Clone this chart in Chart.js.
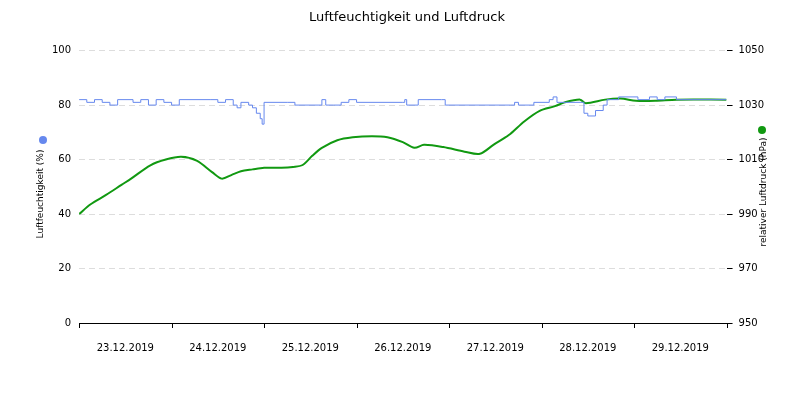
<!DOCTYPE html>
<html>
<head>
<meta charset="utf-8">
<script src="https://cdn.jsdelivr.net/npm/chart.js@4"></script>
<style>body{margin:0;background:#fff}#wrap{width:800px;height:400px}</style>
</head>
<body>
<div id="wrap"><canvas id="myChart"></canvas></div>
<script>
// hours since 23.12.2019 00:00
const dayLabels = ["23.12.2019", "24.12.2019", "25.12.2019", "26.12.2019", "27.12.2019", "28.12.2019", "29.12.2019"];
const humHours = [0, 2, 4, 6, 8, 10, 14, 16, 18, 20, 22, 24, 26, 34, 36, 38, 40, 41, 42, 44, 45, 46, 47, 47.5, 48, 54, 56, 62, 63, 64, 66, 68, 70, 72, 84, 84.5, 85, 88, 94, 95, 112, 113, 114, 118, 122, 123, 124, 130, 131, 132, 134, 136, 137, 140, 145, 148, 150, 152, 155, 168];
const humValues = [82, 81, 82, 81, 80, 82, 81, 82, 80, 82, 81, 80, 82, 82, 81, 82, 80, 79, 81, 80, 79, 77, 75, 73, 81, 81, 80, 80, 82, 80, 80, 81, 82, 81, 81, 82, 80, 82, 82, 80, 80, 81, 80, 81, 82, 83, 81, 81, 77, 76, 78, 80, 82, 83, 82, 83, 82, 83, 82, 82];
const presHours = [0, 3, 7, 11, 13.5, 18.5, 22.5, 26.5, 30.5, 34.5, 37, 39.5, 42, 45, 48, 52.5, 55.5, 58, 60.5, 63, 67, 71, 76, 80, 84, 87, 89.5, 94.5, 100, 104, 107.5, 111.5, 115.5, 119.5, 123.5, 126, 130, 131.5, 136.5, 140.5, 144.5, 149.5, 155, 168];
const presValues = [990, 993.6, 997, 1000.7, 1003, 1007.9, 1010, 1011, 1009.6, 1005.4, 1003, 1004.3, 1005.7, 1006.4, 1007, 1007, 1007.3, 1008, 1011.4, 1014.3, 1017.1, 1018.2, 1018.6, 1018.2, 1016.4, 1014.3, 1015.4, 1014.6, 1012.9, 1012.1, 1015.4, 1019, 1024, 1027.9, 1029.6, 1031, 1032, 1030.7, 1032, 1032.4, 1031.6, 1031.6, 1032, 1032];

const font = { family: "DejaVu Sans", size: 10 };

const sideTitles = {
  id: "sideTitles",
  afterDraw(chart) {
    const c = chart.ctx;
    c.save();
    c.font = "9px 'DejaVu Sans'";
    c.fillStyle = "#000";
    c.textAlign = "center";
    c.textBaseline = "middle";
    c.translate(41, 194); c.rotate(-Math.PI / 2);
    c.fillText("Luftfeuchtigkeit (%)", 0, 0);
    c.restore();
    c.save();
    c.font = "9px 'DejaVu Sans'";
    c.fillStyle = "#000";
    c.textAlign = "center";
    c.textBaseline = "middle";
    c.translate(764, 192); c.rotate(-Math.PI / 2);
    c.fillText("relativer Luftdruck (hPa)", 0, 0);
    c.restore();
    c.save();
    c.fillStyle = "#6688ee";
    c.beginPath(); c.arc(43, 140, 4, 0, Math.PI * 2); c.fill();
    c.fillStyle = "#119911";
    c.beginPath(); c.arc(762, 130, 4, 0, Math.PI * 2); c.fill();
    c.restore();
  }
};

new Chart(document.getElementById("myChart"), {
  type: "line",
  data: {
    datasets: [
      {
        label: "Luftfeuchtigkeit",
        data: humHours.map((h, i) => ({ x: h, y: humValues[i] })),
        borderColor: "#6688ee",
        borderWidth: 1,
        stepped: true,
        pointRadius: 0,
        yAxisID: "y",
        xAxisID: "x"
      },
      {
        label: "Luftdruck",
        data: presHours.map((h, i) => ({ x: h, y: presValues[i] })),
        borderColor: "#119911",
        borderWidth: 2,
        tension: 0.3,
        pointRadius: 0,
        yAxisID: "y2",
        xAxisID: "x"
      }
    ]
  },
  options: {
    responsive: true,
    maintainAspectRatio: false,
    animation: false,
    layout: { padding: { left: 44, right: 30, bottom: 43 } },
    plugins: {
      legend: { display: false },
      tooltip: { enabled: false },
      title: {
        display: true,
        text: "Luftfeuchtigkeit und Luftdruck",
        color: "#000",
        font: { family: "DejaVu Sans", size: 13, weight: "normal" },
        padding: { top: 10, bottom: 25 }
      }
    },
    scales: {
      x: {
        type: "linear",
        min: 0,
        max: 168,
        afterBuildTicks: (ax) => { ax.ticks = [0, 24, 48, 72, 96, 120, 144, 168].map(v => ({ value: v })); },
        ticks: { display: false },
        grid: { display: false },
        border: { color: "#000" }
      },
      xl: {
        type: "linear",
        position: "bottom",
        min: 0,
        max: 168,
        afterBuildTicks: (ax) => { ax.ticks = dayLabels.map((d, i) => ({ value: 12 + 24 * i })); },
        ticks: { color: "#000", font, maxRotation: 0, callback: (v) => dayLabels[(v - 12) / 24] },
        grid: { display: false },
        border: { display: false }
      },
      y: {
        position: "left",
        min: 0,
        max: 100,
        ticks: { stepSize: 20, color: "#000", font, padding: 8 },
        grid: { color: "#dddddd", tickLength: 0, drawTicks: false },
        border: { display: false, dash: [6, 4] }
      },
      y2: {
        position: "right",
        min: 950,
        max: 1050,
        ticks: { stepSize: 20, color: "#000", font, padding: 6, callback: (v) => String(v) },
        grid: { drawOnChartArea: false, tickLength: 6, color: "#000" },
        border: { display: false }
      }
    }
  },
  plugins: [sideTitles, {
    id: "xTickMarks",
    afterDraw(chart) {
      const c = chart.ctx, xs = chart.scales.x, a = chart.chartArea;
      c.save();
      c.strokeStyle = "#000"; c.lineWidth = 1;
      [0, 24, 48, 72, 96, 120, 144, 168].forEach(v => {
        const px = Math.round(xs.getPixelForValue(v)) + 0.5;
        c.beginPath(); c.moveTo(px, a.bottom); c.lineTo(px, a.bottom + 5); c.stroke();
      });
      c.restore();
    }
  }]
});
</script>
</body>
</html>
